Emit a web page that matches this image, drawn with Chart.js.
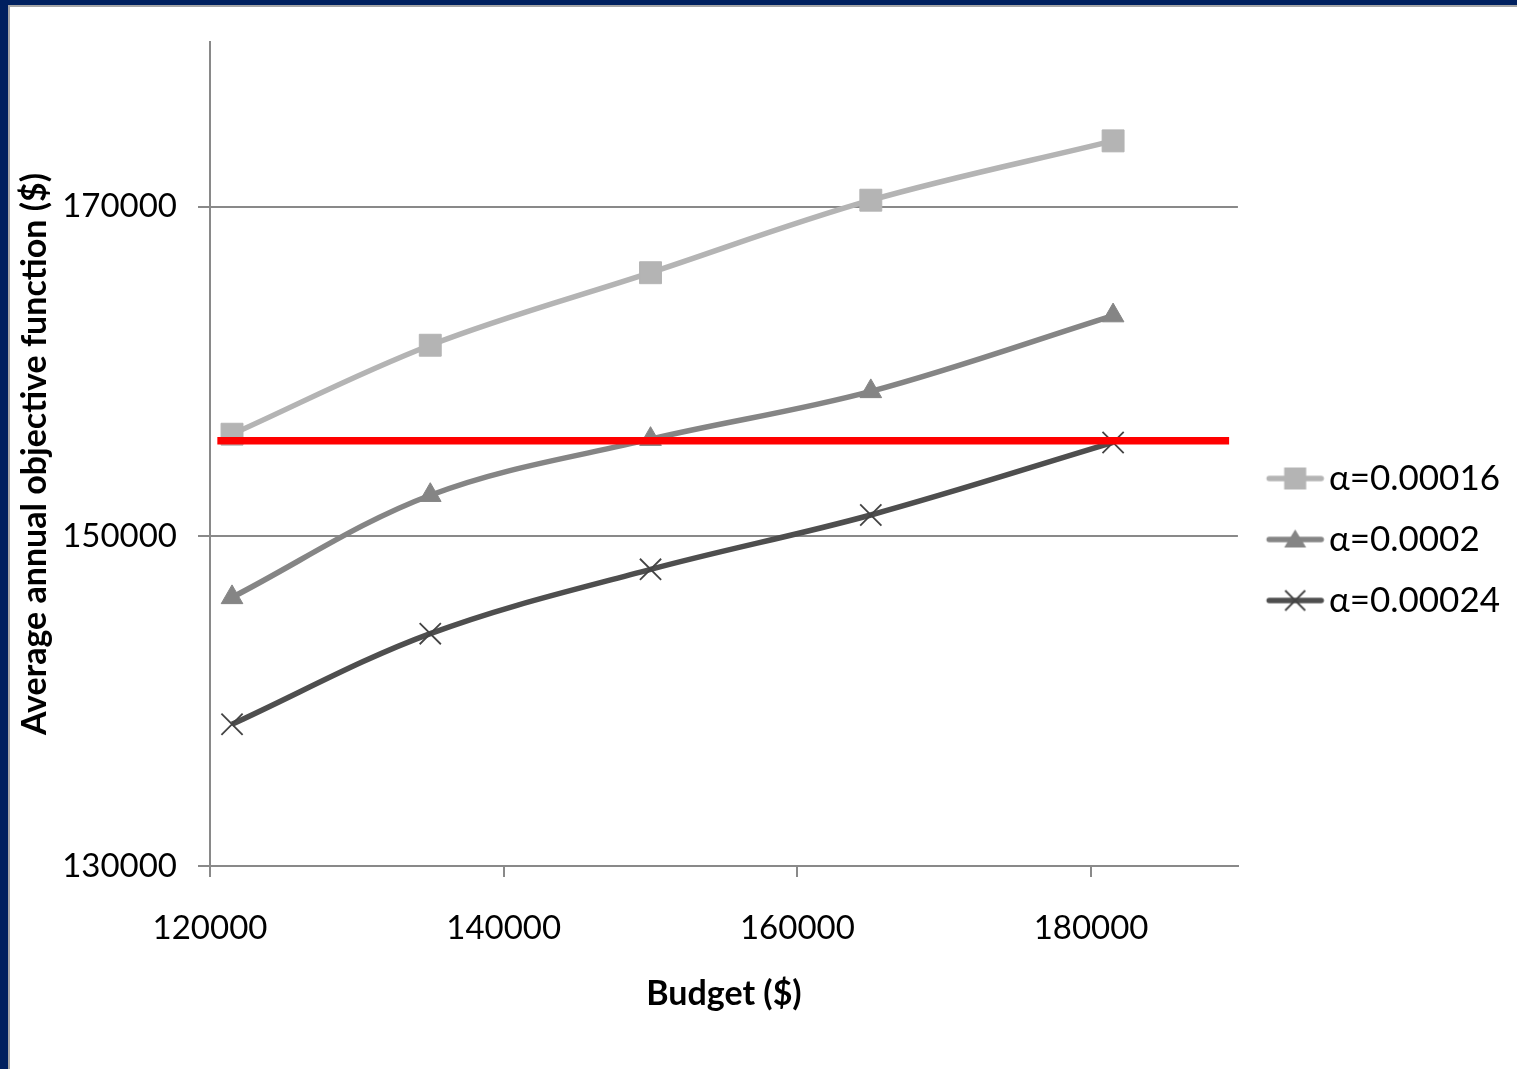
<!DOCTYPE html>
<html>
<head>
<meta charset="utf-8">
<script src="https://cdn.jsdelivr.net/npm/chart.js@4.4.1/dist/chart.umd.min.js"></script>
<style>
  html, body { margin: 0; padding: 0; background: #ffffff; }
  #frame { position: absolute; left: 0; top: 0; width: 1517px; height: 1069px; overflow: hidden; }
  #blueTop { position: absolute; left: 0; top: 0; width: 1517px; height: 5px; background: #00205f; }
  #blueLeft { position: absolute; left: 0; top: 0; width: 8px; height: 1069px; background: #00205f; }
  #greyTop { position: absolute; left: 8px; top: 5px; width: 1509px; height: 2px; background: #a6a6a6; }
  #greyLeft { position: absolute; left: 8px; top: 5px; width: 2px; height: 1064px; background: #a6a6a6; }
  #wrap { position: absolute; left: 0; top: 0; width: 1517px; height: 1069px; }
</style>
</head>
<body>
<div id="frame">
  <div id="blueTop"></div><div id="blueLeft"></div>
  <div id="greyTop"></div><div id="greyLeft"></div>
  <div id="wrap"><canvas id="chart" width="1517" height="1069"></canvas></div>
</div>
<script>
// Budget levels and the average annual objective for each alpha
const budgets = [121500, 135000, 150000, 165000, 181500];
const alpha00016 = [156200, 161600, 166000, 170400, 174000];
const alpha00020 = [146300, 152500, 155900, 158800, 163400];
const alpha00024 = [138600, 144100, 148000, 151300, 155700];
const seriesNames = ['α=0.00016', 'α=0.0002', 'α=0.00024'];

// Reference level drawn as a red horizontal bar
const referenceBudgets = [120500, 189400];
const referenceValue = 155800;

// Axis ticks
const xTicks = [120000, 140000, 160000, 180000];
const yTicks = [130000, 150000, 170000];

const colors = ['#b4b4b4', '#858585', '#4e4e4e'];
const styles = ['rect', 'triangle', 'crossRot'];
const radii = [15.5, 12.5, 15];

const toPoints = (xs, ys) => xs.map((x, i) => ({ x: x, y: ys[i] }));

// Legend swatch: a short line with the series marker on it (drawn right of the box centre)
function swatch(color, style) {
  const c = document.createElement('canvas');
  c.width = 74; c.height = 26;
  const g = c.getContext('2d');
  const cx = 44.5;
  g.strokeStyle = color; g.lineWidth = 5.5; g.lineCap = 'round';
  g.beginPath(); g.moveTo(cx - 26, 13); g.lineTo(cx + 26, 13); g.stroke();
  g.fillStyle = color;
  if (style === 'rect') {
    g.fillRect(cx - 11, 2, 22, 22);
  } else if (style === 'triangle') {
    g.beginPath(); g.moveTo(cx, 3); g.lineTo(cx + 11, 21); g.lineTo(cx - 11, 21); g.closePath(); g.fill();
  } else {
    g.strokeStyle = '#444'; g.lineWidth = 1.8; g.lineCap = 'butt';
    g.beginPath(); g.moveTo(cx - 10, 3); g.lineTo(cx + 10, 23); g.moveTo(cx + 10, 3); g.lineTo(cx - 10, 23); g.stroke();
  }
  return c;
}

const seriesData = [alpha00016, alpha00020, alpha00024];
const datasets = seriesData.map((vals, i) => ({
  label: seriesNames[i],
  data: toPoints(budgets, vals),
  borderColor: colors[i],
  backgroundColor: colors[i],
  borderWidth: 5.5,
  tension: 0.35,
  pointStyle: styles[i],
  pointRadius: radii[i],
  pointHoverRadius: radii[i],
  pointBorderWidth: styles[i] === 'crossRot' ? 1.8 : 1,
  pointBorderColor: styles[i] === 'crossRot' ? '#444444' : colors[i],
  pointBackgroundColor: colors[i],
  order: 1,
  swatch: swatch(colors[i], styles[i])
}));

datasets.push({
  label: 'reference',
  data: referenceBudgets.map(x => ({ x: x, y: referenceValue })),
  borderColor: '#ff0000',
  backgroundColor: '#ff0000',
  borderWidth: 7.5,
  borderCapStyle: 'butt',
  pointRadius: 0,
  tension: 0,
  order: 0
});

const tickFont = { family: 'Lato', size: 33 };
const titleFont = { family: 'Lato', size: 34, weight: 'bold' };

new Chart(document.getElementById('chart'), {
  type: 'line',
  data: { datasets: datasets },
  options: {
    responsive: false,
    animation: false,
    events: [],
    layout: { padding: { top: 42, left: 10, right: 7, bottom: 0 } },
    plugins: {
      tooltip: { enabled: false },
      legend: {
        position: 'right',
        align: 'start',
        title: { display: true, text: ' ', font: { size: 10, lineHeight: 1 }, padding: { top: 383, bottom: 0 } },
        labels: {
          font: { family: 'Lato', size: 35 },
          color: '#000000',
          usePointStyle: true,
          pointStyleWidth: 47.5,
          padding: 26,
          filter: item => item.datasetIndex < 3,
          generateLabels: chart => chart.data.datasets.map((ds, i) => ({
            text: ds.label,
            datasetIndex: i,
            pointStyle: ds.swatch,
            fillStyle: ds.borderColor,
            strokeStyle: ds.borderColor,
            lineWidth: 0,
            hidden: false,
            fontColor: '#000000'
          }))
        }
      }
    },
    scales: {
      x: {
        type: 'linear',
        min: 120000,
        max: 190000,
        afterBuildTicks: s => { s.ticks = xTicks.map(v => ({ value: v })); },
        afterFit: s => { s.height = 1069 - 866; },
        ticks: {
          font: tickFont, color: '#000000', padding: 32, maxRotation: 0,
          callback: v => String(v)
        },
        grid: { drawOnChartArea: false, drawTicks: true, tickLength: 11, color: '#898989', lineWidth: 2 },
        border: { display: true, color: '#898989', width: 2 },
        title: {
          display: true, text: 'Budget ($)', font: titleFont, color: '#000000',
          padding: { top: 0, bottom: 55 }
        }
      },
      y: {
        type: 'linear',
        min: 130000,
        max: 180000,
        afterBuildTicks: s => { s.ticks = yTicks.map(v => ({ value: v })); },
        afterFit: s => { s.width = 210 - 10; },
        ticks: {
          font: tickFont, color: '#000000', padding: 21,
          callback: v => String(v)
        },
        grid: { drawOnChartArea: true, drawTicks: true, tickLength: 12, color: '#898989', lineWidth: 2 },
        border: { display: true, color: '#898989', width: 2 },
        title: {
          display: true, text: 'Average annual objective function ($)', font: titleFont, color: '#000000',
          padding: { top: 5, bottom: 0 }
        }
      }
    }
  }
});
</script>
</body>
</html>
